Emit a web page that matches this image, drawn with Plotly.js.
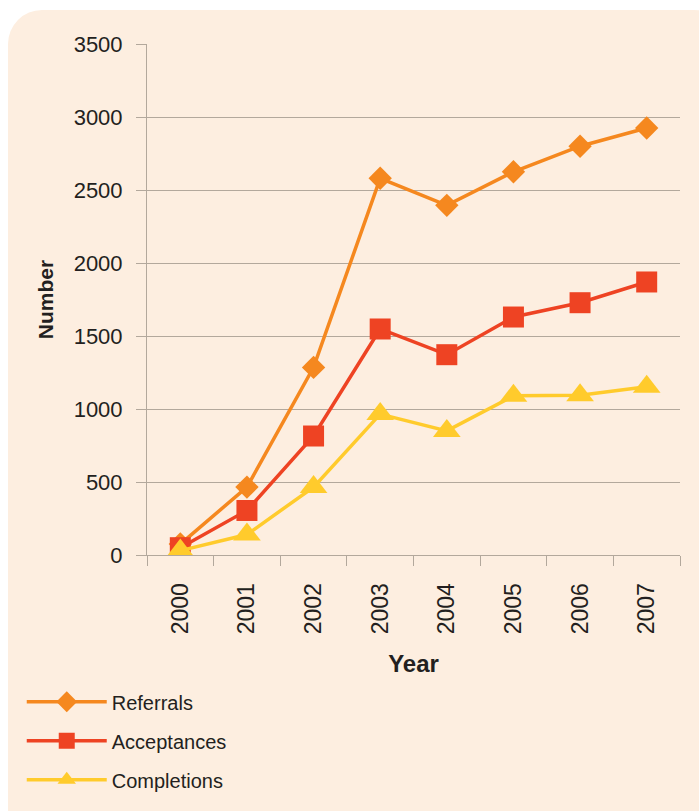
<!DOCTYPE html>
<html>
<head>
<meta charset="utf-8">
<script src="https://cdn.plot.ly/plotly-3.0.1.min.js"></script>
<style>
  html, body { margin: 0; padding: 0; background: #ffffff; }
  #wrap { position: relative; width: 699px; height: 811px; overflow: hidden; }
  #bg { position: absolute; left: 8px; top: 10px; width: 720px; height: 840px;
        background: #fdeee0; border-radius: 34px; }
  #chart { position: absolute; left: 0; top: 0; width: 699px; height: 811px; }
</style>
</head>
<body>
<div id="wrap">
  <div id="bg"></div>
  <div id="chart"></div>
</div>
<script>
const years = ["2000", "2001", "2002", "2003", "2004", "2005", "2006", "2007"];
const referrals = [75, 465, 1285, 2580, 2395, 2625, 2800, 2925];
const acceptances = [50, 305, 815, 1548, 1372, 1630, 1728, 1870];
const completions = [30, 140, 465, 965, 850, 1090, 1095, 1153];
const yTicks = [0, 500, 1000, 1500, 2000, 2500, 3000, 3500];

const textColor = "#231f20";
const gridColor = "#b3a89c";
const fontFamily = "'Liberation Sans', Arial, Helvetica, sans-serif";

const traces = [
  {
    x: years, y: referrals, name: "Referrals", type: "scatter", mode: "lines+markers",
    legendgroup: "a",
    line: { color: "#f5881f", width: 3.5 },
    marker: { symbol: "diamond", size: 18, color: "#f5881f" }
  },
  {
    x: years, y: acceptances, name: "Acceptances", type: "scatter", mode: "lines+markers",
    legendgroup: "b",
    line: { color: "#ee4323", width: 3.5 },
    marker: { symbol: "square", size: 21, color: "#ee4323" }
  },
  {
    x: years, y: completions, name: "Completions", type: "scatter", mode: "lines+markers",
    legendgroup: "c",
    line: { color: "#ffcb2c", width: 3.5 },
    marker: { symbol: "triangle-up", size: 24, color: "#ffcb2c" }
  }
];

const layout = {
  width: 699, height: 811,
  margin: { l: 147, r: 19, t: 44, b: 254 },
  paper_bgcolor: "rgba(0,0,0,0)",
  plot_bgcolor: "rgba(0,0,0,0)",
  font: { family: fontFamily, color: textColor, size: 22 },
  showlegend: true,
  legend: {
    x: -0.235, y: -0.249, xanchor: "left", yanchor: "top",
    bgcolor: "rgba(0,0,0,0)",
    font: { size: 20, color: textColor, family: fontFamily },
    tracegroupgap: 10, itemwidth: 80, itemsizing: "trace"
  },
  xaxis: {
    type: "category",
    range: [-0.5, 7.5],
    tickson: "boundaries",
    ticks: "outside", ticklen: 10, tickwidth: 1, tickcolor: gridColor,
    tickangle: -90,
    ticklabelstandoff: 18,
    tickfont: { size: 23, color: textColor },
    showgrid: false,
    showline: true, linecolor: gridColor, linewidth: 1,
    zeroline: false,
    title: { text: "<b>Year</b>", font: { size: 24, color: textColor }, standoff: 21 },
    fixedrange: true
  },
  yaxis: {
    range: [0, 3500],
    tickvals: yTicks,
    ticktext: yTicks.map(String),
    ticks: "outside", ticklen: 10, tickwidth: 1, tickcolor: gridColor,
    ticklabelstandoff: 9,
    tickfont: { size: 22, color: textColor },
    showgrid: true, gridcolor: gridColor, gridwidth: 1,
    showline: true, linecolor: gridColor, linewidth: 1,
    zeroline: false,
    title: { text: "<b>Number</b>", font: { size: 21, color: textColor }, standoff: 14 },
    fixedrange: true
  },
  hovermode: false
};

Plotly.newPlot("chart", traces, layout, { displayModeBar: false, staticPlot: true });
</script>
</body>
</html>
